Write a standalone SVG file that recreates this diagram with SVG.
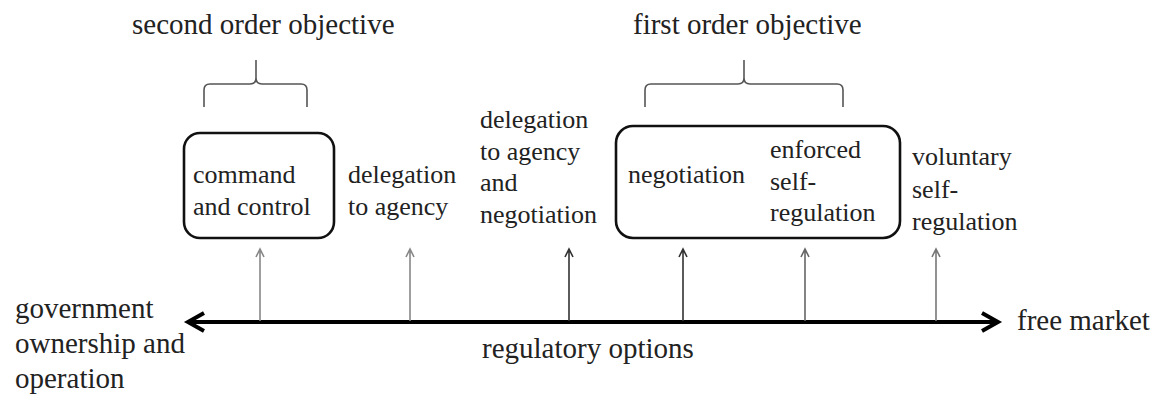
<svg xmlns="http://www.w3.org/2000/svg" width="1156" height="396" viewBox="0 0 1156 396">
<style>
  text { fill: #222; }
  .lg { font-size: 29px; }
  .sm { font-size: 26px; }
  .box { fill: none; stroke: #111; stroke-width: 2.6; }
  .brace { fill: none; stroke: #555; stroke-width: 1.6; }
  .axis { fill: none; stroke: #000; stroke-width: 4; }
  .head { fill: none; stroke: #000; stroke-width: 4; stroke-linejoin: miter; }
  .tick { fill: none; stroke: #666; stroke-width: 1.6; }
</style>
<rect width="1156" height="396" fill="#fff"/>
<g font-family="Liberation Serif, DejaVu Serif, serif">

<g id="second-order">
  <text class="lg" x="132" y="34">second order objective</text>
  <path class="brace" d="M204,107 V90 Q204,84 210,84 H250 Q256,84 256,78 V60 M256,78 Q256,84 262,84 H301 Q307,84 307,90 V107"/>
</g>

<g id="first-order">
  <text class="lg" x="633" y="34">first order objective</text>
  <path class="brace" d="M645,107 V90 Q645,84 651,84 H738 Q744,84 744,78 V60 M744,78 Q744,84 750,84 H837 Q843,84 843,90 V107"/>
</g>

<g id="command-and-control">
  <rect class="box" x="184" y="133" width="150" height="105" rx="16"/>
  <text class="sm" x="193" y="183">command</text>
  <text class="sm" x="193" y="215">and control</text>
</g>

<g id="delegation">
  <text class="sm" x="348" y="183">delegation</text>
  <text class="sm" x="348" y="215">to agency</text>
</g>

<g id="delegation-negotiation">
  <text class="sm" x="480" y="128">delegation</text>
  <text class="sm" x="480" y="159.5">to agency</text>
  <text class="sm" x="480" y="191">and</text>
  <text class="sm" x="480" y="222.5">negotiation</text>
</g>

<g id="first-order-box">
  <rect class="box" x="616" y="126" width="284" height="112" rx="17"/>
  <g id="negotiation">
    <text class="sm" x="628" y="183">negotiation</text>
  </g>
  <g id="enforced-self-regulation">
    <text class="sm" x="770" y="158">enforced</text>
    <text class="sm" x="770" y="190">self-</text>
    <text class="sm" x="770" y="221">regulation</text>
  </g>
</g>

<g id="voluntary">
  <text class="sm" x="912" y="165">voluntary</text>
  <text class="sm" x="912" y="198">self-</text>
  <text class="sm" x="912" y="230">regulation</text>
</g>

<g id="government">
  <text class="lg" x="15" y="318">government</text>
  <text class="lg" x="15" y="353">ownership and</text>
  <text class="lg" x="15" y="388">operation</text>
</g>

<g id="free-market">
  <text class="lg" x="1017" y="330">free market</text>
</g>

<g id="axis-label">
  <text class="lg" x="482" y="358">regulatory options</text>
</g>
</g>

<g id="connectors">
  <line class="axis" x1="190" y1="322" x2="996" y2="322"/>
  <polyline class="head" points="204,313 188,322 204,331"/>
  <polyline class="head" points="982,313 998,322 982,331"/>
  <g class="tick">
    <path d="M260,321 V249 M256,257 L260,249 L264,257" stroke="#888"/>
    <path d="M410,321 V249 M406,257 L410,249 L414,257" stroke="#888"/>
    <path d="M569,321 V249 M565,257 L569,249 L573,257" stroke="#333"/>
    <path d="M683,321 V249 M679,257 L683,249 L687,257" stroke="#333"/>
    <path d="M805,321 V249 M801,257 L805,249 L809,257" stroke="#666"/>
    <path d="M936,321 V249 M932,257 L936,249 L940,257" stroke="#777"/>
  </g>
</g>
</svg>
